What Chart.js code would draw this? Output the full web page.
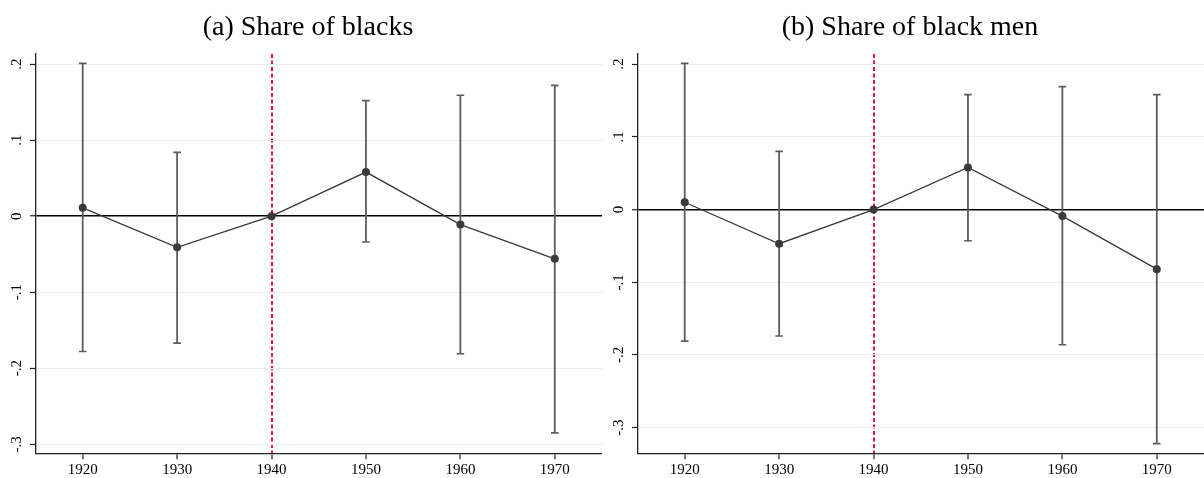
<!DOCTYPE html>
<html>
<head>
<meta charset="utf-8">
<script src="https://cdn.jsdelivr.net/npm/chart.js@4/dist/chart.umd.min.js"></script>
<style>
  html, body { margin: 0; padding: 0; background: #fff; }
  .row { display: flex; width: 1204px; height: 478px; }
  canvas { display: block; }
</style>
</head>
<body>
<div class="row">
  <canvas id="panelA" width="602" height="478"></canvas>
  <canvas id="panelB" width="602" height="478"></canvas>
</div>
<script>
// census years and the reference year (1940 = 0)
const years = [1920, 1930, 1940, 1950, 1960, 1970];
const refYear = 1940;

// (a) share of blacks: point estimates and 95% CI bounds
const estBlacks = [0.011, -0.041, 0, 0.058, -0.011, -0.056];
const loBlacks = [-0.178, -0.167, null, -0.034, -0.181, -0.285];
const hiBlacks = [0.201, 0.084, null, 0.152, 0.159, 0.172];

// (b) share of black men
const estMen = [0.010, -0.047, 0, 0.058, -0.009, -0.082];
const loMen = [-0.181, -0.174, null, -0.043, -0.186, -0.322];
const hiMen = [0.201, 0.080, null, 0.158, 0.169, 0.158];

// tick labels
const yTickValues = [-0.3, -0.2, -0.1, 0, 0.1, 0.2];
const yTickLabels = ["-.3", "-.2", "-.1", "0", ".1", ".2"];
const xTickLabels = ["1920", "1930", "1940", "1950", "1960", "1970"];

const serif = "'Liberation Serif', 'Times New Roman', serif";
const redLine = "#e8123f";
const markColor = "#3a3a3a";
const ciColor = "#5c5c5c";

function ciPoints(lo, hi) {
  const pts = [];
  years.forEach((x, i) => {
    if (lo[i] === null) return;
    pts.push({ x, y: lo[i] }, { x, y: hi[i] }, { x, y: NaN });
  });
  return pts;
}

function makePanel(id, title, est, lo, hi, yMin, yMax) {
  return new Chart(document.getElementById(id), {
    type: "line",
    data: {
      datasets: [
        {
          label: "estimate",
          data: years.map((x, i) => ({ x, y: est[i] })),
          borderColor: markColor,
          borderWidth: 1.3,
          pointRadius: 4,
          pointBackgroundColor: markColor,
          pointBorderColor: markColor,
          pointBorderWidth: 0,
          order: 0
        },
        {
          label: "ci",
          data: ciPoints(lo, hi),
          borderColor: ciColor,
          borderWidth: 1.8,
          spanGaps: false,
          pointStyle: "line",
          pointRadius: 3.8,
          pointBorderColor: ciColor,
          pointBorderWidth: 1.6,
          order: 1
        }
      ]
    },
    options: {
      responsive: false,
      animation: false,
      layout: { padding: 0, autoPadding: false },
      plugins: {
        legend: { display: false },
        tooltip: { enabled: false },
        title: {
          display: true,
          // en space nudges the centred title right, as in the original
          text: "\u2002" + title,
          color: "#000",
          font: { family: serif, size: 28, weight: "normal", lineHeight: 1.1 },
          padding: { top: 12, bottom: 11.3 }
        }
      },
      scales: {
        x: {
          type: "linear",
          min: 1915,
          max: 1975,
          offset: false,
          afterBuildTicks: (s) => { s.ticks = years.map((v) => ({ value: v })); },
          afterFit: (s) => { s.height = 24.3; },
          ticks: {
            color: "#000",
            font: { family: serif, size: 15 },
            padding: 1.5,
            maxRotation: 0,
            callback: (v, i) => xTickLabels[i]
          },
          grid: {
            offset: false,
            color: (c) => (c.tick && c.tick.value === refYear ? redLine : "rgba(0,0,0,0)"),
            lineWidth: 2,
            tickColor: "#222",
            tickLength: 5.5,
            tickWidth: 1.2
          },
          border: {
            display: true,
            color: "#222",
            width: 1.3,
            dash: (c) => (c.tick && c.tick.value === refYear ? [4, 2.5] : [])
          }
        },
        y: {
          type: "linear",
          min: yMin,
          max: yMax,
          afterBuildTicks: (s) => { s.ticks = yTickValues.map((v) => ({ value: v })); },
          afterFit: (s) => { s.width = 35.5; },
          ticks: {
            color: "#000",
            font: { family: serif, size: 15 },
            minRotation: 90,
            maxRotation: 90,
            crossAlign: "center",
            padding: 5,
            callback: (v, i) => yTickLabels[i]
          },
          grid: {
            color: (c) => (c.tick && c.tick.value === 0 ? "#000" : "#e8f0f2"),
            lineWidth: (c) => (c.tick && c.tick.value === 0 ? 1.5 : 1),
            tickColor: "#222",
            tickLength: 5.5,
            tickWidth: 1.2
          },
          border: { display: true, color: "#222", width: 1.3 }
        }
      }
    }
  });
}

makePanel("panelA", "(a) Share of blacks", estBlacks, loBlacks, hiBlacks, -0.3124, 0.2132);
makePanel("panelB", "(b) Share of black men", estMen, loMen, hiMen, -0.3358, 0.2138);
</script>
</body>
</html>
